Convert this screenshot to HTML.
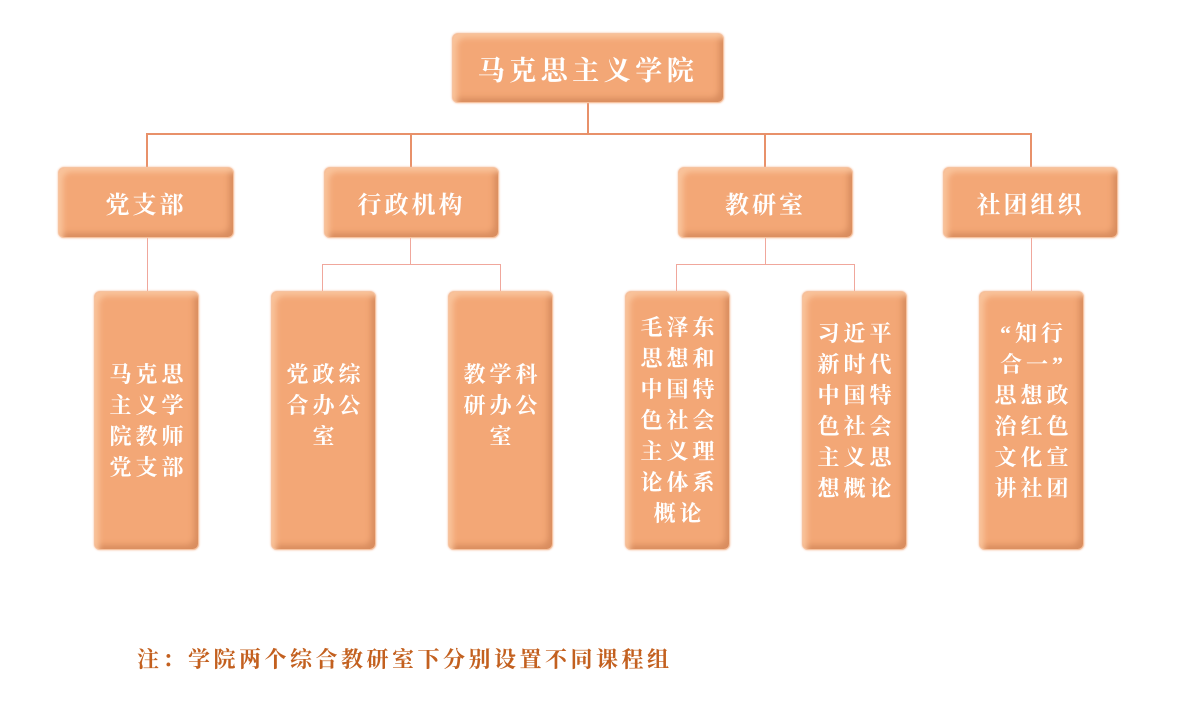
<!DOCTYPE html>
<html><head><meta charset="utf-8"><style>
body{margin:0;width:1195px;height:709px;background:#fff;position:relative;overflow:hidden;font-family:"Liberation Serif","Noto Serif CJK SC",serif;}
.b{position:absolute;background:#f3a776;border-radius:6px;box-sizing:border-box;border:1px solid #f6c3a0;
box-shadow:inset 7px 7px 6px -3px #f9c39b,inset -7px -7px 6px -3px #d98d5f,0 0 2px #f4b896;
color:#fff;font-weight:bold;display:flex;align-items:center;justify-content:center;text-align:center;}
.t{font-size:27px;letter-spacing:4.5px;}
.l2{font-size:24px;letter-spacing:3px;}
.l3{font-size:22px;line-height:31px;letter-spacing:4px;padding:0 6px 0 10px;}
.h{position:absolute;height:2px;background:#e8916a;}
.v{position:absolute;width:2px;background:#e8916a;}
.hp{position:absolute;height:1px;background:#f0a79c;}
.vp{position:absolute;width:1px;background:#f0a79c;}
.note{position:absolute;left:137px;top:643px;font-size:22px;font-weight:bold;color:#c3601f;letter-spacing:3.5px;}
</style></head><body>
<div class="v" style="left:587px;top:102px;height:32px"></div>
<div class="h" style="left:146px;top:133px;width:886px"></div>
<div class="v" style="left:146px;top:133px;height:34px"></div>
<div class="v" style="left:410px;top:133px;height:34px"></div>
<div class="v" style="left:764px;top:133px;height:34px"></div>
<div class="v" style="left:1030px;top:133px;height:34px"></div>

<div class="vp" style="left:147px;top:237px;height:54px"></div>
<div class="vp" style="left:410px;top:237px;height:27px"></div>
<div class="hp" style="left:322px;top:264px;width:178px"></div>
<div class="vp" style="left:322px;top:264px;height:27px"></div>
<div class="vp" style="left:500px;top:264px;height:27px"></div>
<div class="vp" style="left:765px;top:237px;height:27px"></div>
<div class="hp" style="left:676px;top:264px;width:178px"></div>
<div class="vp" style="left:676px;top:264px;height:27px"></div>
<div class="vp" style="left:854px;top:264px;height:27px"></div>
<div class="vp" style="left:1031px;top:237px;height:54px"></div>

<div class="b t" style="left:452px;top:33px;width:272px;height:70px">马克思主义学院</div>
<div class="b l2" style="left:58px;top:167px;width:176px;height:71px">党支部</div>
<div class="b l2" style="left:324px;top:167px;width:175px;height:71px">行政机构</div>
<div class="b l2" style="left:678px;top:167px;width:175px;height:71px">教研室</div>
<div class="b l2" style="left:943px;top:167px;width:175px;height:71px">社团组织</div>

<div class="b l3" style="left:94px;top:291px;width:105px;height:259px">马克思<br>主义学<br>院教师<br>党支部</div>
<div class="b l3" style="left:271px;top:291px;width:105px;height:259px;padding-bottom:30px">党政综<br>合办公<br>室</div>
<div class="b l3" style="left:448px;top:291px;width:105px;height:259px;padding-bottom:30px">教学科<br>研办公<br>室</div>
<div class="b l3" style="left:625px;top:291px;width:105px;height:259px">毛泽东<br>思想和<br>中国特<br>色社会<br>主义理<br>论体系<br>概论</div>
<div class="b l3" style="left:802px;top:291px;width:105px;height:259px;padding-bottom:20px">习近平<br>新时代<br>中国特<br>色社会<br>主义思<br>想概论</div>
<div class="b l3" style="left:979px;top:291px;width:105px;height:259px;padding-bottom:20px">“知行<br>合一”<br>思想政<br>治红色<br>文化宣<br>讲社团</div>

<div class="note">注：学院两个综合教研室下分别设置不同课程组</div>
</body></html>
